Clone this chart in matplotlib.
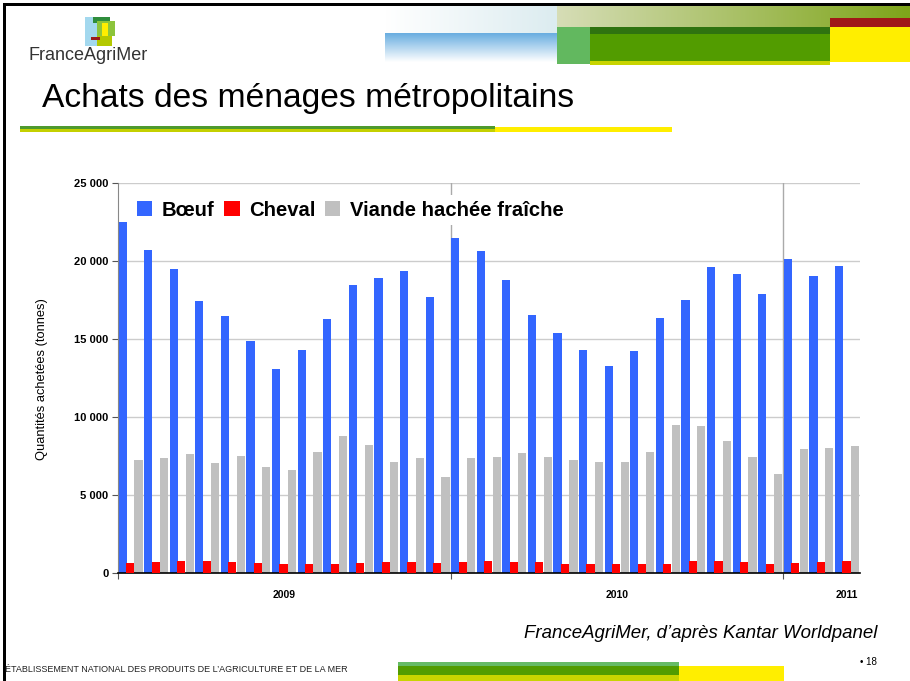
import numpy as np
import matplotlib.pyplot as plt
from matplotlib.patches import Rectangle

plt.rcParams['font.family'] = ['Liberation Sans', 'DejaVu Sans']

# périodes Kantar de 4 semaines : 13 par an
years = ['2009', '2010', '2011']
periods_per_year = [13, 13, 3]

boeuf = [22490, 20730, 19470, 17410, 16470, 14880, 13050, 14300, 16280, 18430, 18900, 19350, 17690,
         21470, 20660, 18770, 16540, 15390, 14300, 13280, 14200, 16350, 17470, 19640, 19180, 17860,
         20150, 19070, 19710]
cheval = [640, 680, 745, 745, 680, 640, 575, 575, 575, 640, 680, 680, 640,
          680, 745, 680, 680, 575, 575, 575, 575, 575, 745, 745, 680, 575,
          640, 680, 745]
viande_hachee = [7260, 7380, 7640, 7070, 7470, 6810, 6620, 7770, 8770, 8190, 7110, 7380, 6130,
                 7380, 7450, 7680, 7450, 7260, 7110, 7110, 7770, 9490, 9410, 8470, 7450, 6360,
                 7960, 8020, 8150]
series_names = ['Bœuf', 'Cheval', 'Viande hachée fraîche']
series_colors = ['#3366ff', '#ff0000', '#c0c0c0']

W, H = 910, 681
fig = plt.figure(figsize=(W / 100, H / 100), dpi=100)

# ---- décor de la diapositive (coordonnées en pixels)
deco = fig.add_axes([0, 0, 1, 1])
deco.axis('off')


def box(x0, y0, x1, y1, color):
    deco.add_patch(Rectangle((x0, y0), x1 - x0, y1 - y0, color=color, lw=0))


def gradient(x0, y0, x1, y1, c0, c1, vertical=False):
    c0 = np.array(plt.matplotlib.colors.to_rgb(c0))
    c1 = np.array(plt.matplotlib.colors.to_rgb(c1))
    t = np.linspace(0, 1, 100)
    row = c0[None, :] * (1 - t[:, None]) + c1[None, :] * t[:, None]
    img = row[:, None, :] if vertical else row[None, :, :]
    deco.imshow(img, extent=(x0, x1, y1, y0), aspect='auto', interpolation='bilinear')


# bordure
box(3, 3, W, 6, 'black')
box(3, 3, 6, H, 'black')

# bandeau haut droit
gradient(385, 6, 557, 33, '#ffffff', '#dcecf0')
gradient(385, 33, 557, 62, '#68ade0', '#ffffff', vertical=True)
gradient(557, 6, W, 27, '#d6ddb6', '#7ea51a')
box(830, 18, W, 27, '#a01818')
box(557, 27, 590, 64, '#62b85f')
box(590, 60, 830, 65, '#c8d400')
box(590, 27, 830, 34, '#2f7310')
box(590, 34, 830, 61, '#529c00')
box(830, 27, W, 62, '#ffee00')

# logo
box(85, 17, 98, 46, '#a3d8ee')
box(93, 17, 110, 23, '#2f8d3c')
box(97, 21, 115, 36, '#8cc43c')
box(102, 23, 108, 38, '#ffee00')
box(97, 36, 112, 46, '#b3c800')
box(91, 37, 100, 40, '#9b1b1b')
deco.text(29, 55, 'FranceAgriMer', fontsize=13, color='#333333', va='center', ha='left')

# titre et soulignement
deco.text(42, 99, 'Achats des ménages métropolitains', fontsize=24.2, va='center', ha='left')
box(20, 126, 495, 129, '#4e9a2e')
box(20, 129, 495, 132, '#c4d000')
box(495, 127, 672, 132, '#ffee00')

# pied de page
deco.text(877, 634, 'FranceAgriMer, d\u2019après Kantar Worldpanel', fontsize=13.4,
          style='italic', ha='right', va='center')
deco.text(5, 669, 'ÉTABLISSEMENT NATIONAL DES PRODUITS DE L\u2019AGRICULTURE ET DE LA MER',
          fontsize=6.5, ha='left', va='center', color='#222222')
deco.text(877, 662, '\u2022 18', fontsize=7, ha='right', va='center')
box(398, 662, 679, 666, '#66bb66')
box(398, 666, 679, 675, '#529c00')
box(398, 675, 679, H, '#c8d400')
box(679, 666, 784, H, '#ffee00')

deco.set_xlim(0, W)
deco.set_ylim(H, 0)

# ---- graphique
ax = fig.add_axes([118 / W, 1 - 573 / H, (860 - 118) / W, (573 - 183) / H])
n = len(boeuf)
x = np.arange(n)
bw = 0.32
ax.bar(x + 0.18, boeuf, bw, color=series_colors[0], lw=0, zorder=2, label=series_names[0])
ax.bar(x + 0.80, viande_hachee, bw, color=series_colors[2], lw=0, zorder=2, label=series_names[2])
ax.bar(x + 0.47, cheval, bw, color=series_colors[1], lw=0, zorder=3, label=series_names[1])

ax.set_xlim(0, n)
ax.set_ylim(0, 25000)
ax.yaxis.grid(True, color='#cccccc', lw=1)
ax.set_axisbelow(True)

bounds = np.cumsum([0] + periods_per_year)
for b in bounds[1:-1]:
    ax.axvline(b, color='#aaaaaa', lw=1, zorder=1)

for s in ['top', 'right']:
    ax.spines[s].set_visible(False)
ax.spines['left'].set_color('#888888')
ax.spines['bottom'].set_color('black')
ax.spines['bottom'].set_linewidth(1.2)

yt = np.arange(0, 25001, 5000)
ax.set_yticks(yt)
ax.set_yticklabels([f'{v:,}'.replace(',', ' ') for v in yt], fontsize=8, fontweight='bold')
ax.tick_params(axis='y', length=4, color='#555555', pad=3)

ax.set_xticks(bounds[:-1])
ax.set_xticklabels([])
ax.tick_params(axis='x', which='major', length=4, color='#555555')
year_pos = [6.5, 19.5, 28.5]
ax.set_xticks(year_pos, minor=True)
ax.set_xticklabels(years, minor=True, fontsize=7.5, fontweight='bold')
ax.tick_params(axis='x', which='minor', length=0, pad=12)

handles, labels = ax.get_legend_handles_labels()
order = [0, 2, 1]
leg = ax.legend([handles[i] for i in order], [labels[i] for i in order],
                loc='upper left', bbox_to_anchor=(0.019, 0.968), ncol=3,
                prop={'size': 14.6, 'weight': 'bold'}, frameon=True,
                handlelength=0.75, handleheight=0.75, handletextpad=0.45,
                columnspacing=0.5, borderpad=0.25, borderaxespad=0)
leg.get_frame().set_facecolor('white')
leg.get_frame().set_edgecolor('none')
leg.get_frame().set_alpha(1)

fig.text(42 / W, 1 - 379 / H, 'Quantités achetées (tonnes)', rotation=90,
         fontsize=9.3, ha='center', va='center')

fig.savefig('out.png', dpi=100)
